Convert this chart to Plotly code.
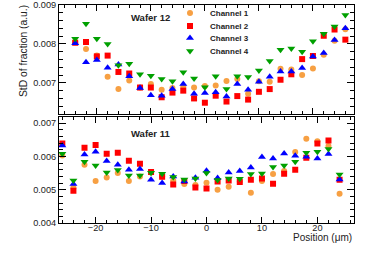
import plotly.graph_objects as go

# ---------------- data ----------------
channels = ["Channel 1", "Channel 2", "Channel 3", "Channel 4"]

# Wafer 12 (top panel)
pos_w12 = [-24, -22, -20, -18, -16, -14, -12, -10, -8, -6, -4, -2, 0,
           2, 4, 6, 8, 10, 12, 14, 16, 18, 20, 22, 24, 26]
w12_ch1 = [0.00805, 0.00787, 0.00770, 0.00716, 0.00684, 0.00706, 0.00688, 0.00697, 0.00682, 0.00687,
           0.00690, 0.00688, 0.00692, 0.00693, 0.00705, 0.00710, 0.00672, 0.00704, 0.00703, 0.00736,
           0.00734, 0.00720, 0.00737, 0.00772, 0.00808, 0.00838]
w12_ch2 = [0.00803, 0.00805, 0.00768, 0.00770, 0.00728, 0.00724, 0.00688, 0.00688, 0.00663, 0.00675,
           0.00680, 0.00660, 0.00649, 0.00667, 0.00652, 0.00666, 0.00657, 0.00677, 0.00684, 0.00708,
           0.00722, 0.00761, 0.00769, 0.00821, 0.00837, 0.00811]
w12_ch3 = [0.00802, 0.00753, 0.00759, 0.00739, 0.00747, 0.00717, 0.00687, 0.00668, 0.00667, 0.00684,
           0.00697, 0.00672, 0.00674, 0.00676, 0.00665, 0.00697, 0.00682, 0.00703, 0.00716, 0.00729,
           0.00729, 0.00738, 0.00768, 0.00777, 0.00810, 0.00840]
w12_ch4 = [0.00813, 0.00852, 0.00813, 0.00800, 0.00745, 0.00749, 0.00722, 0.00718, 0.00710, 0.00704,
           0.00727, 0.00711, 0.00689, 0.00717, 0.00684, 0.00717, 0.00715, 0.00732, 0.00756, 0.00785,
           0.00788, 0.00780, 0.00807, 0.00826, 0.00845, 0.00874]

# Wafer 11 (bottom panel)
pos_w11 = [-26, -24, -22, -20, -18, -16, -14, -12, -10, -8, -6, -4, -2,
           0, 2, 4, 6, 8, 10, 12, 14, 16, 18, 20, 22, 24]
w11_ch1 = [0.00603, 0.00506, 0.00575, 0.00526, 0.00537, 0.00550, 0.00526, 0.00540, 0.00552, 0.00540,
           0.00528, 0.00517, 0.00514, 0.00521, 0.00500, 0.00509, 0.00525, 0.00491, 0.00526, 0.00547,
           0.00556, 0.00613, 0.00653, 0.00646, 0.00631, 0.00488]
w11_ch2 = [0.00639, 0.00497, 0.00626, 0.00634, 0.00608, 0.00611, 0.00587, 0.00578, 0.00553, 0.00539,
           0.00516, 0.00526, 0.00507, 0.00504, 0.00525, 0.00528, 0.00523, 0.00530, 0.00534, 0.00518,
           0.00548, 0.00560, 0.00596, 0.00639, 0.00648, 0.00530]
w11_ch3 = [0.00633, 0.00517, 0.00606, 0.00614, 0.00586, 0.00575, 0.00560, 0.00562, 0.00530, 0.00520,
           0.00540, 0.00525, 0.00536, 0.00557, 0.00535, 0.00552, 0.00556, 0.00567, 0.00598, 0.00594,
           0.00609, 0.00602, 0.00599, 0.00594, 0.00607, 0.00531]
w11_ch4 = [0.00608, 0.00528, 0.00584, 0.00573, 0.00552, 0.00559, 0.00543, 0.00543, 0.00551, 0.00548,
           0.00538, 0.00531, 0.00534, 0.00550, 0.00529, 0.00534, 0.00533, 0.00547, 0.00549, 0.00568,
           0.00573, 0.00584, 0.00611, 0.00614, 0.00622, 0.00546]

x_tickvals = [-20, -10, 0, 10, 20]
y_top_ticks = [0.007, 0.008, 0.009]
y_bot_ticks = [0.004, 0.005, 0.006, 0.007]

# ---------------- styles ----------------
colors = ["#f7a043", "#ff0000", "#0000ff", "#00a000"]
symbols = ["circle", "square", "triangle-up", "triangle-down"]
sizes = [6, 6, 7, 7]
FONT = "Liberation Sans, Arial, Helvetica, sans-serif"

W, H = 373, 269
ML, MR, MT, MB = 59, 19, 5, 46
PW, PH = W - ML - MR, H - MT - MB


def xp(px):
    return (px - ML) / PW


def yp(py):
    return (H - MB - py) / PH


fig = go.Figure()

top_series = [w12_ch1, w12_ch2, w12_ch3, w12_ch4]
bot_series = [w11_ch1, w11_ch2, w11_ch3, w11_ch4]
legend_names = ["legend", "legend2", "legend3", "legend4"]

for i in range(4):
    fig.add_trace(go.Scatter(
        x=pos_w12, y=top_series[i], mode="markers", name=channels[i],
        marker=dict(color=colors[i], symbol=symbols[i], size=sizes[i], line=dict(width=0)),
        xaxis="x2", yaxis="y2", legend=legend_names[i], showlegend=True))

for i in range(4):
    fig.add_trace(go.Scatter(
        x=pos_w11, y=bot_series[i], mode="markers", name=channels[i],
        marker=dict(color=colors[i], symbol=symbols[i], size=sizes[i], line=dict(width=0)),
        xaxis="x", yaxis="y", showlegend=False))

axis_common = dict(showline=True, linecolor="black", linewidth=1, mirror="ticks",
                   ticks="inside", tickcolor="black", showgrid=False, zeroline=False,
                   automargin=False,
                   tickfont=dict(family=FONT, size=9.2, color="#222222"))

top_dom = [yp(114), 1.0]
bot_dom = [0.0, yp(116.5)]

layout = dict(
    template="none",
    width=W, height=H,
    margin=dict(l=ML, r=MR, t=MT, b=MB, pad=0, autoexpand=False),
    paper_bgcolor="white", plot_bgcolor="white",
    font=dict(family=FONT, color="#222222"),
    xaxis=dict(range=[-26.6, 26.6], anchor="y", tickvals=x_tickvals, ticklen=6, tickwidth=1,
               ticklabelstandoff=-4,
               minor=dict(dtick=2, tick0=0, ticks="inside", ticklen=3, tickcolor="black"),
               **axis_common),
    yaxis=dict(domain=bot_dom, range=[0.004, 0.0072], anchor="x", tickvals=y_bot_ticks,
               tickformat=".3f", ticklen=7,
               minor=dict(dtick=0.0002, tick0=0, ticks="inside", ticklen=4, tickcolor="black"),
               **axis_common),
    xaxis2=dict(range=[-27.0, 27.6], anchor="y2", tickvals=x_tickvals, ticklen=6,
                showticklabels=False,
                minor=dict(dtick=2, tick0=0, ticks="inside", ticklen=3, tickcolor="black"),
                **axis_common),
    yaxis2=dict(domain=top_dom, range=[0.0062, 0.009], anchor="x2", tickvals=y_top_ticks,
                tickformat=".3f", ticklen=7,
                minor=dict(dtick=0.0002, tick0=0, ticks="inside", ticklen=4, tickcolor="black"),
                **axis_common),
)

leg_rows = [13, 26, 38, 51]
for i, ln in enumerate(legend_names):
    layout[ln] = dict(x=xp(170), y=yp(leg_rows[i]), xanchor="left", yanchor="middle",
                      bgcolor="rgba(0,0,0,0)", borderwidth=0,
                      font=dict(family=FONT, size=8, weight="bold", color="#222222"),
                      itemwidth=30)

fig.update_layout(**layout)

ann = [
    dict(text="Wafer 12", x=xp(150), y=yp(18), xref="paper", yref="paper",
         xanchor="center", yanchor="middle", showarrow=False,
         font=dict(family=FONT, size=9.5, weight="bold", color="#222222")),
    dict(text="Wafer 11", x=xp(150), y=yp(133), xref="paper", yref="paper",
         xanchor="center", yanchor="middle", showarrow=False,
         font=dict(family=FONT, size=9.5, weight="bold", color="#222222")),
    dict(text="StD of fraction (a.u.)", x=xp(23), y=yp(3), xref="paper", yref="paper",
         xanchor="center", yanchor="top", textangle=-90, showarrow=False,
         font=dict(family=FONT, size=10.3, color="#222222")),
    dict(text="Position (μm)", x=1.0, y=yp(237), xref="paper", yref="paper",
         xanchor="right", yanchor="middle", showarrow=False,
         font=dict(family=FONT, size=10, color="#222222")),
]
fig.update_layout(annotations=ann)

fig.write_html("out.html", config={"displayModeBar": False},
               post_script="document.body.style.margin='0px';")
